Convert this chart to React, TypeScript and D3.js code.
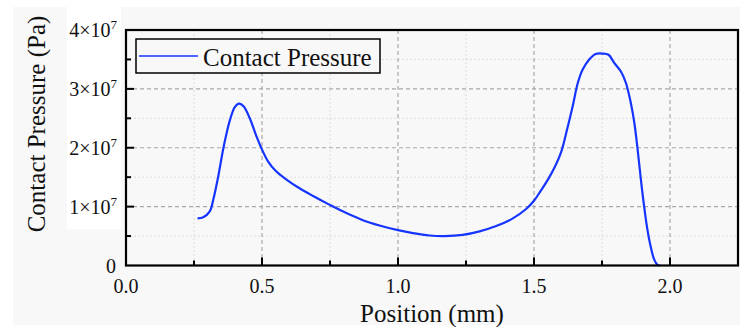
import React from "react";
import * as d3 from "d3";

// Contact pressure along the contact position
const positions = [
  0.263, 0.284, 0.308, 0.321, 0.339, 0.357, 0.37, 0.382, 0.4, 0.416, 0.433, 0.455,
  0.48, 0.498, 0.522, 0.55, 0.59, 0.635, 0.688, 0.749, 0.81, 0.871, 0.932, 1.0,
  1.055, 1.116, 1.171, 1.238, 1.3, 1.361, 1.422, 1.471, 1.5, 1.525, 1.55,
  1.575, 1.6, 1.62, 1.642, 1.661, 1.679, 1.703, 1.725, 1.752, 1.774, 1.795, 1.82,
  1.838, 1.856, 1.869, 1.881, 1.893, 1.905, 1.917, 1.93, 1.942, 1.954, 1.963,
];
// Pressure in units of 1e7 Pa
const pressures = [
  0.8, 0.82, 0.92, 1.12, 1.51, 1.97, 2.25, 2.47, 2.69, 2.75, 2.7, 2.5,
  2.19, 1.99, 1.77, 1.61, 1.46, 1.32, 1.18, 1.03, 0.89, 0.77, 0.68, 0.6,
  0.55, 0.51, 0.5, 0.52, 0.58, 0.67, 0.8, 0.96, 1.1, 1.27, 1.45,
  1.66, 1.93, 2.28, 2.7, 3.1, 3.33, 3.5, 3.59, 3.6, 3.58, 3.44, 3.29,
  3.1, 2.76, 2.42, 1.97, 1.46, 1.0, 0.61, 0.3, 0.1, 0.01, 0.0,
];

const xMajorTicks = [0, 0.5, 1.0, 1.5, 2.0];
const xTickLabels = ["0.0", "0.5", "1.0", "1.5", "2.0"];
const xMinorTicks = [0.25, 0.75, 1.25, 1.75];
const yMajorTicks = [0, 1, 2, 3, 4];
const yTickMantissas = ["0", "1", "2", "3", "4"];
const yMinorTicks = [0.5, 1.5, 2.5, 3.5];

const seriesName = "Contact Pressure";
const xTitle = "Position (mm)";
const yTitle = "Contact Pressure (Pa)";

const W = 740;
const H = 327;
const left = 126;
const right = 738;
const top = 30;
const bottom = 265.5;

const FONT = "Liberation Serif, Tinos, DejaVu Serif, Times New Roman, serif";
const BLUE = "#1535ff";
const txt = { fontFamily: FONT };

export default function App() {
  const x = d3.scaleLinear().domain([0, 2.25]).range([left, right]);
  const y = d3.scaleLinear().domain([0, 4]).range([bottom, top]);

  const data = positions.map((p, i) => [p, pressures[i]] as [number, number]);
  const line = d3
    .line<[number, number]>()
    .x((d) => x(d[0]))
    .y((d) => y(d[1]))
    .curve(d3.curveCatmullRom.alpha(0.5));

  return (
    <svg
      width={W}
      height={H}
      style={{ position: "absolute", left: 0, top: 0, display: "block" }}
    >
      <rect x={0} y={0} width={W} height={H} fill="#ffffff" />
      <rect x={13} y={7} width={W - 13} height={H - 9} fill="#f8f8f8" />
      <rect x={67} y={7} width={54} height={222} fill="#ffffff" />

      {/* minor grid */}
      {xMinorTicks.concat([2.25]).map((t) => (
        <line
          key={"xm" + t}
          x1={x(t)}
          x2={x(t)}
          y1={top}
          y2={bottom}
          stroke="#dcdcdc"
          strokeWidth={1}
          strokeDasharray="2,2"
        />
      ))}
      {yMinorTicks.map((t) => (
        <line
          key={"ym" + t}
          x1={left}
          x2={right}
          y1={y(t)}
          y2={y(t)}
          stroke="#dcdcdc"
          strokeWidth={1}
          strokeDasharray="2,2"
        />
      ))}
      {/* major grid */}
      {xMajorTicks.slice(1).map((t) => (
        <line
          key={"xg" + t}
          x1={x(t)}
          x2={x(t)}
          y1={top}
          y2={bottom}
          stroke="#a8a8a8"
          strokeWidth={1.2}
          strokeDasharray="4,3"
        />
      ))}
      {yMajorTicks.slice(1, 4).map((t) => (
        <line
          key={"yg" + t}
          x1={left}
          x2={right}
          y1={y(t)}
          y2={y(t)}
          stroke="#a8a8a8"
          strokeWidth={1.2}
          strokeDasharray="4,3"
        />
      ))}

      {/* ticks, pointing inward */}
      {xMajorTicks.slice(1).map((t) => (
        <line key={"xt" + t} x1={x(t)} x2={x(t)} y1={bottom} y2={bottom - 8} stroke="#000" strokeWidth={2} />
      ))}
      {xMinorTicks.map((t) => (
        <line key={"xtm" + t} x1={x(t)} x2={x(t)} y1={bottom} y2={bottom - 5} stroke="#000" strokeWidth={2} />
      ))}
      {yMajorTicks.slice(1, 4).map((t) => (
        <line key={"yt" + t} x1={left} x2={left + 8} y1={y(t)} y2={y(t)} stroke="#000" strokeWidth={2} />
      ))}
      {yMinorTicks.map((t) => (
        <line key={"ytm" + t} x1={left} x2={left + 5} y1={y(t)} y2={y(t)} stroke="#000" strokeWidth={2} />
      ))}

      {/* data */}
      <path d={line(data) || ""} fill="none" stroke={BLUE} strokeWidth={2.2} strokeLinejoin="round" />

      {/* frame */}
      <rect x={left} y={top} width={right - left} height={bottom - top} fill="none" stroke="#000" strokeWidth={2.2} />

      {/* x tick labels */}
      {xMajorTicks.map((t, i) => (
        <text key={"xl" + t} x={x(t)} y={293} textAnchor="middle" fontSize={20} fill="#111" style={txt}>
          {xTickLabels[i]}
        </text>
      ))}
      {/* y tick labels */}
      {yMajorTicks.map((t, i) =>
        t === 0 ? (
          <text key={"yl" + t} x={116} y={y(t) + 7} textAnchor="end" fontSize={20} fill="#111" style={txt}>
            0
          </text>
        ) : (
          <text key={"yl" + t} x={117} y={y(t) + 7} textAnchor="end" fontSize={20} fill="#111" style={txt}>
            {yTickMantissas[i]}
            {"×10"}
            <tspan fontSize={13} dy={-8}>
              7
            </tspan>
          </text>
        )
      )}

      {/* axis titles */}
      <text x={(left + right) / 2} y={322} textAnchor="middle" fontSize={25} fill="#111" style={txt}>
        {xTitle}
      </text>
      <text
        transform={`translate(45, ${(13 + 235) / 2}) rotate(-90)`}
        textAnchor="middle"
        fontSize={25}
        fill="#111"
        style={txt}
      >
        {yTitle}
      </text>

      {/* legend */}
      <rect x={136} y={39} width={244} height={34} fill="#f8f8f8" stroke="#000" strokeWidth={1.5} />
      <line x1={139} x2={198} y1={56} y2={56} stroke={BLUE} strokeWidth={1.6} />
      <text x={203} y={65.5} fontSize={25} fill="#111" style={txt}>
        {seriesName}
      </text>
    </svg>
  );
}
